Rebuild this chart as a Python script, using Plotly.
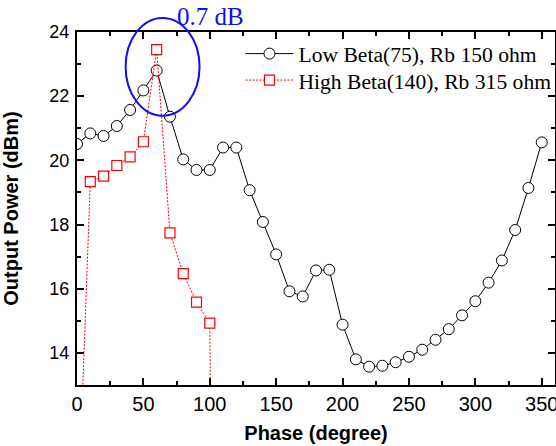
import plotly.graph_objects as go

# ---- data ----
phase_low = [0, 10, 20, 30, 40, 50, 60, 70, 80, 90, 100, 110, 120, 130, 140, 150, 160, 170,
             180, 190, 200, 210, 220, 230, 240, 250, 260, 270, 280, 290, 300, 310, 320, 330,
             340, 350]
power_low = [20.51, 20.84, 20.76, 21.07, 21.57, 22.18, 22.80, 21.36, 20.03, 19.70, 19.70, 20.40,
             20.40, 19.07, 18.08, 17.07, 15.92, 15.76, 16.57, 16.59, 14.88, 13.80, 13.57, 13.60,
             13.71, 13.88, 14.10, 14.41, 14.74, 15.17, 15.61, 16.19, 16.88, 17.83, 19.14, 20.56]

phase_high = [0, 10, 20, 30, 40, 50, 60, 70, 80, 90, 100, 110]
power_high = [8.0, 19.34, 19.51, 19.84, 20.11, 20.58, 23.45, 17.74, 16.47, 15.58, 14.93, -30.0]

name_low = "Low Beta(75), Rb 150 ohm"
name_high = "High Beta(140), Rb 315 ohm"

x_range = [0, 360]
y_range = [13, 24]
x_ticks = [0, 50, 100, 150, 200, 250, 300, 350]
y_ticks = [14, 16, 18, 20, 22, 24]

# highlight ellipse (data units) and its label
ell_x = [36.6, 92.3]
ell_y = [21.39, 24.44]
note_text = "0.7 dB"
note_pos = (100.9, 24.48)

serif = "Liberation Serif, Times New Roman, serif"
sans = "Liberation Sans, Arial, Helvetica, sans-serif"

fig = go.Figure()
fig.add_trace(go.Scatter(
    x=phase_low, y=power_low, mode="lines+markers", name=name_low, legend="legend",
    line=dict(color="black", width=1),
    marker=dict(symbol="circle", size=11, color="white",
                line=dict(color="black", width=1)),
))
fig.add_trace(go.Scatter(
    x=phase_high, y=power_high, mode="lines+markers", name=name_high, legend="legend2",
    line=dict(color="red", width=1, dash="2px,1.5px"),
    marker=dict(symbol="square", size=10, color="white",
                line=dict(color="red", width=1.2)),
))


def to_dom(v, r):
    return (v - r[0]) / (r[1] - r[0])


fig.add_shape(type="circle", xref="x domain", yref="y domain",
              x0=to_dom(ell_x[0], x_range), x1=to_dom(ell_x[1], x_range),
              y0=to_dom(ell_y[0], y_range), y1=to_dom(ell_y[1], y_range),
              line=dict(color="#1010F0", width=2))
fig.add_annotation(x=to_dom(note_pos[0], x_range), y=to_dom(note_pos[1], y_range),
                   xref="x domain", yref="y domain", text=note_text,
                   showarrow=False, font=dict(family=serif, size=25, color="#1010F0"),
                   xanchor="center", yanchor="middle")

axis_common = dict(showline=True, linecolor="black", linewidth=2, mirror="ticks",
                   ticks="inside", tickcolor="black", tickwidth=1.5, ticklen=7,
                   showgrid=False, zeroline=False, automargin=False)

fig.update_xaxes(range=x_range, tickvals=x_ticks,
                 minor=dict(dtick=25, tick0=0, ticks="inside", ticklen=4, tickcolor="black",
                            tickwidth=1.5),
                 tickfont=dict(family=sans, size=20, color="black"),
                 ticklabeloverflow="allow",
                 title=dict(text="<b>Phase (degree)</b>", font=dict(family=sans, size=20, color="black"),
                            standoff=12),
                 **axis_common)
fig.update_yaxes(range=y_range, tickvals=y_ticks,
                 minor=dict(dtick=1, tick0=13, ticks="inside", ticklen=4, tickcolor="black",
                            tickwidth=1.5),
                 tickfont=dict(family=sans, size=18, color="black"),
                 ticklabelstandoff=2,
                 title=dict(text="<b>Output Power (dBm)</b>", font=dict(family=sans, size=20, color="black"),
                            standoff=28),
                 **axis_common)

legend_common = dict(xanchor="left", yanchor="top", itemwidth=48,
                     font=dict(family=serif, size=21.6, color="black"),
                     bgcolor="rgba(0,0,0,0)", borderwidth=0)

fig.update_layout(
    width=556, height=446,
    margin=dict(l=77, r=1, t=32, b=61, autoexpand=False),
    plot_bgcolor="white", paper_bgcolor="white",
    legend=dict(x=0.342, y=0.997, **legend_common),
    legend2=dict(x=0.342, y=0.922, **legend_common),
    showlegend=True,
)

# remove the default page margin so the figure sits at the window's top-left corner
fig.write_html(
    "out.html",
    config={"displayModeBar": False},
    post_script="document.body.style.margin='0';document.body.style.overflow='hidden';"
                "document.documentElement.style.overflow='hidden';",
)
